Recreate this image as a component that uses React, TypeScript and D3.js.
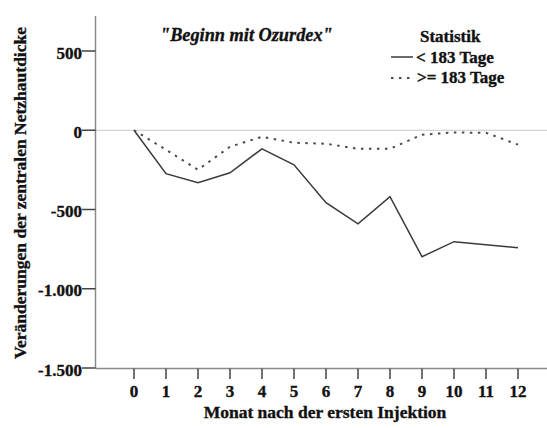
import React from "react";
import * as d3 from "d3";

const months = [0, 1, 2, 3, 4, 5, 6, 7, 8, 9, 10, 11, 12];
const shortSeries = [0, -274, -331, -268, -117, -218, -457, -590, -419, -798, -703, -722, -741];
const longSeries = [0, -123, -249, -104, -41, -79, -85, -117, -117, -28, -14, -16, -91];
const yTicks = [500, 0, -500, -1000, -1500];
const seriesNames = ["< 183 Tage", ">= 183 Tage"];
const title = "\"Beginn mit Ozurdex\"";
const legendTitle = "Statistik";
const xTitle = "Monat nach der ersten Injektion";
const yTitle = "Veränderungen der zentralen Netzhautdicke";

const W = 547;
const H = 428;
const font = "'Liberation Serif', 'Times New Roman', serif";
const ink = "#111";
const halo = { stroke: ink, strokeWidth: 0.35 };

export default function App() {
  const x = d3.scaleLinear().domain([0, 12]).range([134, 518]);
  const y = d3.scaleLinear().domain([-1500, 500]).range([368, 51]);
  const axisColor = "#8a8a8a";
  const fmt = (v: number) =>
    Math.abs(v) >= 1000
      ? `${Math.trunc(v / 1000)}.${String(Math.abs(v) % 1000).padStart(3, "0")}`
      : String(v);
  const line = d3
    .line<number>()
    .x((_, i) => x(months[i]))
    .y((d) => y(d));

  return (
    <svg width={W} height={H} style={{ position: "absolute", left: 0, top: 0, background: "#fff" }}>
      <rect x={0} y={0} width={W} height={H} fill="#fff" />
      {/* zero reference line */}
      <line x1={96} x2={547} y1={y(0)} y2={y(0)} stroke="#c8c8c8" strokeWidth={1} />
      {/* y axis */}
      <line x1={95.5} x2={95.5} y1={16} y2={368} stroke={axisColor} strokeWidth={1.5} />
      {yTicks.map((t) => (
        <g key={t}>
          <line x1={82} x2={95.5} y1={y(t)} y2={y(t)} stroke="#444" strokeWidth={1.5} />
          <text
            x={82}
            y={y(t)}
            dy={7.5}
            textAnchor="end"
            fontFamily={font}
            fontWeight="bold"
            fontSize={17}
            fill={ink}
            {...halo}
          >
            {fmt(t)}
          </text>
        </g>
      ))}
      {/* x axis */}
      <line x1={95} x2={547} y1={368.5} y2={368.5} stroke={axisColor} strokeWidth={1.5} />
      {months.map((m) => (
        <g key={m}>
          <line x1={x(m)} x2={x(m)} y1={368.5} y2={379} stroke="#444" strokeWidth={1.5} />
          <text
            x={x(m)}
            y={397}
            textAnchor="middle"
            fontFamily={font}
            fontWeight="bold"
            fontSize={17}
            fill={ink}
            {...halo}
          >
            {m}
          </text>
        </g>
      ))}
      {/* series */}
      <path d={line(shortSeries) ?? ""} fill="none" stroke="#3a3a3a" strokeWidth={1.5} />
      <path
        d={line(longSeries) ?? ""}
        fill="none"
        stroke="#4a4a4a"
        strokeWidth={2}
        strokeDasharray="2.5,5.5"
      />
      {/* title */}
      <text x={160} y={41} fontFamily={font} fontWeight="bold" fontStyle="italic" fontSize={18.3} fill={ink} {...halo}>
        {title}
      </text>
      {/* legend */}
      <text x={420} y={42} fontFamily={font} fontWeight="bold" fontSize={17} fill={ink} {...halo}>
        {legendTitle}
      </text>
      <line x1={391} x2={413} y1={57} y2={57} stroke="#3a3a3a" strokeWidth={1.5} />
      <text x={416} y={63} fontFamily={font} fontWeight="bold" fontSize={17} fill={ink} {...halo}>
        {seriesNames[0]}
      </text>
      <line x1={391} x2={413} y1={78} y2={78} stroke="#4a4a4a" strokeWidth={2} strokeDasharray="2.5,5.5" />
      <text x={417} y={83} fontFamily={font} fontWeight="bold" fontSize={17} fill={ink} {...halo}>
        {seriesNames[1]}
      </text>
      {/* axis titles */}
      <text
        x={325}
        y={418}
        textAnchor="middle"
        fontFamily={font}
        fontWeight="bold"
        fontSize={17.5}
        fill={ink}
        {...halo}
      >
        {xTitle}
      </text>
      <text
        transform={`translate(26,193) rotate(-90)`}
        textAnchor="middle"
        fontFamily={font}
        fontWeight="bold"
        fontSize={17.5}
        fill={ink}
        {...halo}
      >
        {yTitle}
      </text>
    </svg>
  );
}
